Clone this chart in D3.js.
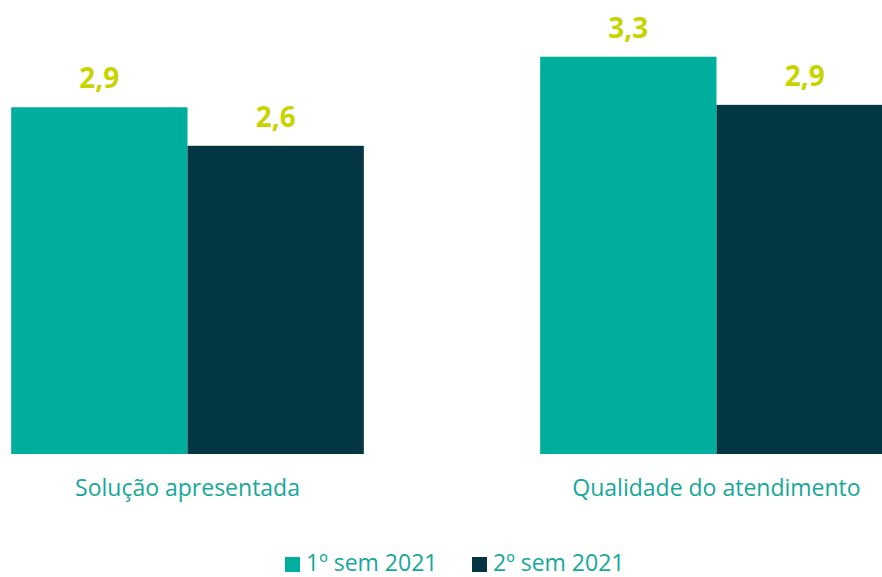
<!DOCTYPE html>
<html>
<head>
<meta charset="utf-8">
<script src="https://cdn.jsdelivr.net/npm/d3@7"></script>
<style>
  body { margin: 0; background: #fff; }
  svg { display: block; font-family: "Open Sans", sans-serif; }
</style>
</head>
<body>
<div id="chart"></div>
<script>
const width = 882;
const height = 577;

const categories = ["Solução apresentada", "Qualidade do atendimento"];
const seriesNames = ["1º sem 2021", "2º sem 2021"];
const sem1 = [2.88, 3.30];
const sem2 = [2.56, 2.90];

const colors = ["#00ae9d", "#023642"];
const labelColor = "#c8d400";
const textColor = "#16a899";

const svg = d3.select("#chart")
  .append("svg")
    .attr("width", width)
    .attr("height", height);

const baseline = 454;

// outer band: one step per category, gap between groups = one bar width
const x0 = d3.scaleBand()
  .domain(categories)
  .range([-77, 981])
  .paddingInner(1 / 3)
  .paddingOuter(1 / 6);

const x1 = d3.scaleBand()
  .domain(seriesNames)
  .range([0, x0.bandwidth()]);

const y = d3.scaleLinear()
  .domain([0, 3.3])
  .range([baseline, 56.7]);

const rows = categories.map((c, i) => ({
  category: c,
  values: [
    { series: seriesNames[0], value: sem1[i] },
    { series: seriesNames[1], value: sem2[i] }
  ]
}));

const fmt = v => d3.format(".1f")(v).replace(".", ",");

const groups = svg.selectAll(".group")
  .data(rows)
  .enter()
  .append("g")
    .attr("class", "group")
    .attr("transform", d => `translate(${x0(d.category)},0)`);

groups.selectAll("rect")
  .data(d => d.values)
  .enter()
  .append("rect")
    .attr("x", d => x1(d.series))
    .attr("y", d => y(d.value))
    .attr("width", x1.bandwidth())
    .attr("height", d => baseline - y(d.value))
    .attr("fill", (d, i) => colors[i]);

groups.selectAll(".val")
  .data(d => d.values)
  .enter()
  .append("text")
    .attr("class", "val")
    .attr("x", d => x1(d.series) + x1.bandwidth() / 2)
    .attr("y", d => y(d.value) - 19)
    .attr("text-anchor", "middle")
    .attr("fill", labelColor)
    .style("font-size", "28px")
    .style("font-weight", "bold")
    .text(d => fmt(d.value));

// category labels
svg.selectAll(".cat")
  .data(categories)
  .enter()
  .append("text")
    .attr("class", "cat")
    .attr("x", d => x0(d) + x0.bandwidth() / 2)
    .attr("y", 496)
    .attr("text-anchor", "middle")
    .attr("fill", textColor)
    .style("font-size", "23px")
    .text(d => d);

// legend
const legendX = [285, 472];
const legend = svg.selectAll(".legend")
  .data(seriesNames)
  .enter()
  .append("g")
    .attr("class", "legend")
    .attr("transform", (d, i) => `translate(${legendX[i]},557)`);

legend.append("rect")
  .attr("width", 15)
  .attr("height", 15)
  .attr("fill", (d, i) => colors[i]);

legend.append("text")
  .attr("x", 21)
  .attr("y", 14)
  .attr("fill", textColor)
  .style("font-size", "23px")
  .text(d => d);
</script>
</body>
</html>
